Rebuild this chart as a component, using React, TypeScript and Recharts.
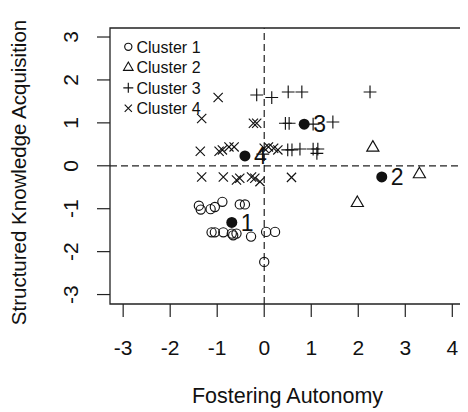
import { ReferenceArea, ReferenceLine, Scatter, ScatterChart, XAxis, YAxis } from "recharts";

const FONT = '"Liberation Sans", Arial, sans-serif';
const INK = "#111";

// cluster 1 (circles)
const cluster1X = [-1.39, -1.35, -1.14, -1.05, -0.89, -0.52, -0.41, -1.12, -1.05, -0.87, -0.69, -0.59, -0.66, -0.28, 0.04, 0.23, 0.0];
const cluster1Y = [-0.93, -1.02, -1.01, -0.96, -0.84, -0.9, -0.9, -1.55, -1.55, -1.55, -1.58, -1.58, -1.62, -1.65, -1.54, -1.54, -2.24];

// cluster 2 (triangles)
const cluster2X = [2.31, 3.3, 1.98];
const cluster2Y = [0.43, -0.19, -0.86];

// cluster 3 (plus)
const cluster3X = [-0.16, 0.16, 0.51, 0.8, 2.25, 0.45, 0.53, 1.04, 1.46, 0.5, 0.59, 0.76, 1.04, 1.14, 1.12, -0.03];
const cluster3Y = [1.65, 1.59, 1.72, 1.72, 1.72, 0.99, 0.99, 0.97, 1.02, 0.37, 0.37, 0.39, 0.39, 0.39, 0.29, 0.27];

// cluster 4 (cross)
const cluster4X = [-0.98, -1.33, -0.23, -0.16, -1.36, -0.96, -0.89, -0.75, -0.64, 0.0, 0.09, 0.2, 0.29, -1.33, -0.87, -0.59, -0.52, -0.27, -0.2, -0.09, 0.58];
const cluster4Y = [1.59, 1.1, 0.99, 0.99, 0.34, 0.34, 0.37, 0.44, 0.44, 0.41, 0.44, 0.41, 0.37, -0.26, -0.26, -0.33, -0.29, -0.26, -0.29, -0.37, -0.27];

// cluster centres
const centreLabels = ["1", "2", "3", "4"];
const centreX = [-0.69, 2.5, 0.85, -0.41];
const centreY = [-1.32, -0.26, 0.97, 0.23];

const legendLabels = ["Cluster 1", "Cluster 2", "Cluster 3", "Cluster 4"];
const xTicks = [-3, -2, -1, 0, 1, 2, 3, 4];
const yTicks = [-3, -2, -1, 0, 1, 2, 3];
const xDomain: [number, number] = [-3.28, 4.27];
const yDomain: [number, number] = [-3.22, 3.21];

const toPoints = (xs: number[], ys: number[]) => xs.map((x, i) => ({ x, y: ys[i] }));

type Kind = "circle" | "triangle" | "plus" | "cross";

function Symbol({ kind, cx, cy, s }: { kind: Kind; cx: number; cy: number; s: number }) {
  const common = { fill: "none", stroke: INK, strokeWidth: 1.15 };
  if (kind === "circle") return <circle cx={cx} cy={cy} r={s * 0.72} {...common} />;
  if (kind === "triangle") {
    const h = s * 1.0;
    return (
      <path
        d={`M${cx},${cy - h * 1.05} L${cx + h * 0.95},${cy + h * 0.6} L${cx - h * 0.95},${cy + h * 0.6} Z`}
        {...common}
      />
    );
  }
  if (kind === "plus")
    return <path d={`M${cx - s},${cy} H${cx + s} M${cx},${cy - s} V${cy + s}`} {...common} />;
  const d = s * 0.72;
  return <path d={`M${cx - d},${cy - d} L${cx + d},${cy + d} M${cx - d},${cy + d} L${cx + d},${cy - d}`} {...common} />;
}

const makeShape = (kind: Kind) => (props: any) => <Symbol kind={kind} cx={props.cx} cy={props.cy} s={6.4} />;

const CentreShape = (props: any) => (
  <g>
    <circle cx={props.cx} cy={props.cy} r={5.5} fill={INK} />
    <text x={props.cx + 9} y={props.cy} dy="0.36em" fontSize={23} fontFamily={FONT} fill={INK}>
      {props.payload.label}
    </text>
  </g>
);

const XTick = ({ x, y, payload }: any) => (
  <text x={x} y={y} dy={37.5} textAnchor="middle" fontSize={21} fontFamily={FONT} fill={INK}>
    {payload.value}
  </text>
);

const YTick = ({ x, y, payload }: any) => (
  <text
    transform={`translate(${x - 19},${y}) rotate(-90)`}
    textAnchor="middle"
    fontSize={21}
    fontFamily={FONT}
    fill={INK}
  >
    {payload.value}
  </text>
);

const legendKinds: Kind[] = ["circle", "triangle", "plus", "cross"];

export default function App() {
  const centres = centreX.map((x, i) => ({ x, y: centreY[i], label: centreLabels[i] }));
  return (
    <div style={{ width: 460, height: 404, position: "relative" }}>
      <ScatterChart width={460} height={404} margin={{ top: 20, right: 3, left: 0, bottom: 0 }}>
        <XAxis
          type="number"
          dataKey="x"
          domain={xDomain}
          ticks={xTicks}
          allowDataOverflow
          height={108}
          tickSize={13}
          tickMargin={0}
          axisLine={false}
          tickLine={{ stroke: "#222", strokeWidth: 1.2 }}
          tick={<XTick />}
          interval={0}
        />
        <YAxis
          type="number"
          dataKey="y"
          domain={yDomain}
          ticks={yTicks}
          allowDataOverflow
          width={102}
          tickSize={13}
          tickMargin={0}
          axisLine={false}
          tickLine={{ stroke: "#222", strokeWidth: 1.2 }}
          tick={<YTick />}
          interval={0}
        />
        <ReferenceArea x1={xDomain[0]} x2={xDomain[1]} y1={yDomain[0]} y2={yDomain[1]} fill="none" stroke="#222" strokeWidth={1.3} fillOpacity={0} />
        <ReferenceLine x={0} stroke="#222" strokeWidth={1.2} strokeDasharray="7 4" />
        <ReferenceLine y={0} stroke="#222" strokeWidth={1.2} strokeDasharray="7 4" />
        <Scatter data={toPoints(cluster1X, cluster1Y)} shape={makeShape("circle")} isAnimationActive={false} />
        <Scatter data={toPoints(cluster2X, cluster2Y)} shape={makeShape("triangle")} isAnimationActive={false} />
        <Scatter data={toPoints(cluster3X, cluster3Y)} shape={makeShape("plus")} isAnimationActive={false} />
        <Scatter data={toPoints(cluster4X, cluster4Y)} shape={makeShape("cross")} isAnimationActive={false} />
        <Scatter data={centres} shape={CentreShape} isAnimationActive={false} />
      </ScatterChart>
      <svg
        width={460}
        height={404}
        style={{ position: "absolute", left: 0, top: 0, pointerEvents: "none", overflow: "visible" }}
      >
        {legendLabels.map((label, i) => {
          const cy = 38.8 + 20.5 * i;
          return (
            <g key={label}>
              <Symbol kind={legendKinds[i]} cx={120.3} cy={cy} s={5} />
              <text x={128.5} y={cy} dy="0.36em" fontSize={16} fontFamily={FONT} fill={INK}>
                {label}
              </text>
            </g>
          );
        })}
        <text x={279.5} y={395} textAnchor="middle" fontSize={21.5} fontFamily={FONT} fill={INK}>
          Fostering Autonomy
        </text>
        <text transform="translate(17.5,164.5) rotate(-90)" textAnchor="middle" fontSize={20.5} fontFamily={FONT} fill={INK}>
          Structured Knowledge Acquisition
        </text>
      </svg>
    </div>
  );
}
